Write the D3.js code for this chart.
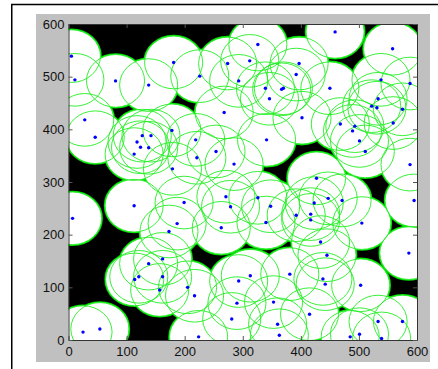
<!DOCTYPE html>
<html>
<head>
<meta charset="utf-8">
<script src="https://cdn.jsdelivr.net/npm/d3@7"></script>
<style>
  html, body { margin: 0; padding: 0; background: #ffffff; }
  svg { display: block; }
</style>
</head>
<body>
<svg id="chart" width="438" height="369"></svg>
<script>
// Detected centre points (x, y)
const pointX = [5,11,81,138,181,226,274,293,312,326,459,558,397,392,339,346,367,370,450,402,
  341,268,28,46,127,142,118,124,138,113,178,219,179,221,254,285,538,588,533,522,
  531,575,559,468,493,489,501,511,588,595,427,447,471,423,326,348,271,279,199,187,
  173,263,340,392,417,417,505,434,445,113,7,586,138,162,121,114,162,157,205,217,
  293,313,381,438,442,503,290,353,281,360,363,415,224,25,54,485,501,533,575,539];
const pointY = [539,494,492,484,527,501,525,492,530,561,585,553,525,504,478,458,476,478,478,422,
  380,432,418,385,388,388,376,366,365,353,398,380,325,346,358,334,494,487,458,444,
  441,438,412,410,406,397,378,358,333,265,307,269,265,260,270,254,272,253,261,221,
  206,213,223,237,239,228,222,186,161,255,231,165,145,154,120,115,120,95,100,84,
  112,122,125,116,106,104,70,72,40,30,9,49,6,15,21,6,11,35,35,3];
const circleRadius = 50;          // radius in data units
const xTicks = [0,100,200,300,400,500,600];
const yTicks = [0,100,200,300,400,500,600];

const svg = d3.select("#chart");
const W = 438, H = 369;
const plot = { left: 68.5, right: 417, top: 24, bottom: 340 };

const x = d3.scaleLinear().domain([0,600]).range([plot.left, plot.right]);
const y = d3.scaleLinear().domain([0,600]).range([plot.bottom, plot.top]);
const rx = x(circleRadius) - x(0);
const ry = y(0) - y(circleRadius);

const pts = pointX.map((v, i) => ({ x: v, y: pointY[i] }));

// Figure background and frame
svg.append("rect").attr("width", W).attr("height", H).attr("fill", "#ffffff");
svg.append("rect").attr("x", 36).attr("y", 14).attr("width", 394).attr("height", 348)
  .attr("fill", "#c0c0c0");
svg.append("path").attr("d", "M11.75,369 V4.5 H438")
  .attr("fill", "none").attr("stroke", "#000").attr("stroke-width", 1.5);

// Clip to plot area
svg.append("clipPath").attr("id", "clip").append("rect")
  .attr("x", plot.left).attr("y", plot.top)
  .attr("width", plot.right - plot.left).attr("height", plot.bottom - plot.top);

const g = svg.append("g").attr("clip-path", "url(#clip)");
g.append("rect").attr("x", plot.left).attr("y", plot.top)
  .attr("width", plot.right - plot.left).attr("height", plot.bottom - plot.top)
  .attr("fill", "#000");

// White discs with green edge (image layer)
g.append("g").selectAll("ellipse").data(pts).join("ellipse")
  .attr("cx", d => x(d.x)).attr("cy", d => y(d.y))
  .attr("rx", rx).attr("ry", ry)
  .attr("fill", "#fff").attr("stroke", "#00e000").attr("stroke-width", 2.6);
g.append("g").selectAll("ellipse").data(pts).join("ellipse")
  .attr("cx", d => x(d.x)).attr("cy", d => y(d.y))
  .attr("rx", rx).attr("ry", ry)
  .attr("fill", "#fff");

// Thin green circles
g.append("g").selectAll("ellipse").data(pts).join("ellipse")
  .attr("cx", d => x(d.x)).attr("cy", d => y(d.y))
  .attr("rx", rx).attr("ry", ry)
  .attr("fill", "none").attr("stroke", "#22ee22").attr("stroke-width", 0.9);

// Blue centre dots
g.append("g").selectAll("circle").data(pts).join("circle")
  .attr("cx", d => x(d.x)).attr("cy", d => y(d.y))
  .attr("r", 1.7).attr("fill", "#0000ff");

// Axes
const tickLen = 4;
function styleAxis(sel) {
  sel.selectAll(".domain").attr("stroke", "#333").attr("stroke-width", 1);
  sel.selectAll(".tick line").attr("stroke", "#555").attr("stroke-width", 1);
  sel.selectAll("text").attr("fill", "#111")
    .style("font-family", "Arial, 'Liberation Sans', sans-serif").style("font-size", "13px");
}
svg.append("g").attr("transform", `translate(0,${plot.bottom})`)
  .call(d3.axisBottom(x).tickValues(xTicks).tickSizeInner(-tickLen).tickSizeOuter(0).tickPadding(7))
  .call(styleAxis);
svg.append("g").attr("transform", `translate(${plot.left},0)`)
  .call(d3.axisLeft(y).tickValues(yTicks).tickSizeInner(-tickLen).tickSizeOuter(0).tickPadding(4))
  .call(styleAxis);
svg.append("g").attr("transform", `translate(0,${plot.top})`)
  .call(d3.axisTop(x).tickValues(xTicks).tickSizeInner(-tickLen).tickSizeOuter(0).tickFormat(""))
  .call(styleAxis);
svg.append("g").attr("transform", `translate(${plot.right},0)`)
  .call(d3.axisRight(y).tickValues(yTicks).tickSizeInner(-tickLen).tickSizeOuter(0).tickFormat(""))
  .call(styleAxis);
</script>
</body>
</html>
